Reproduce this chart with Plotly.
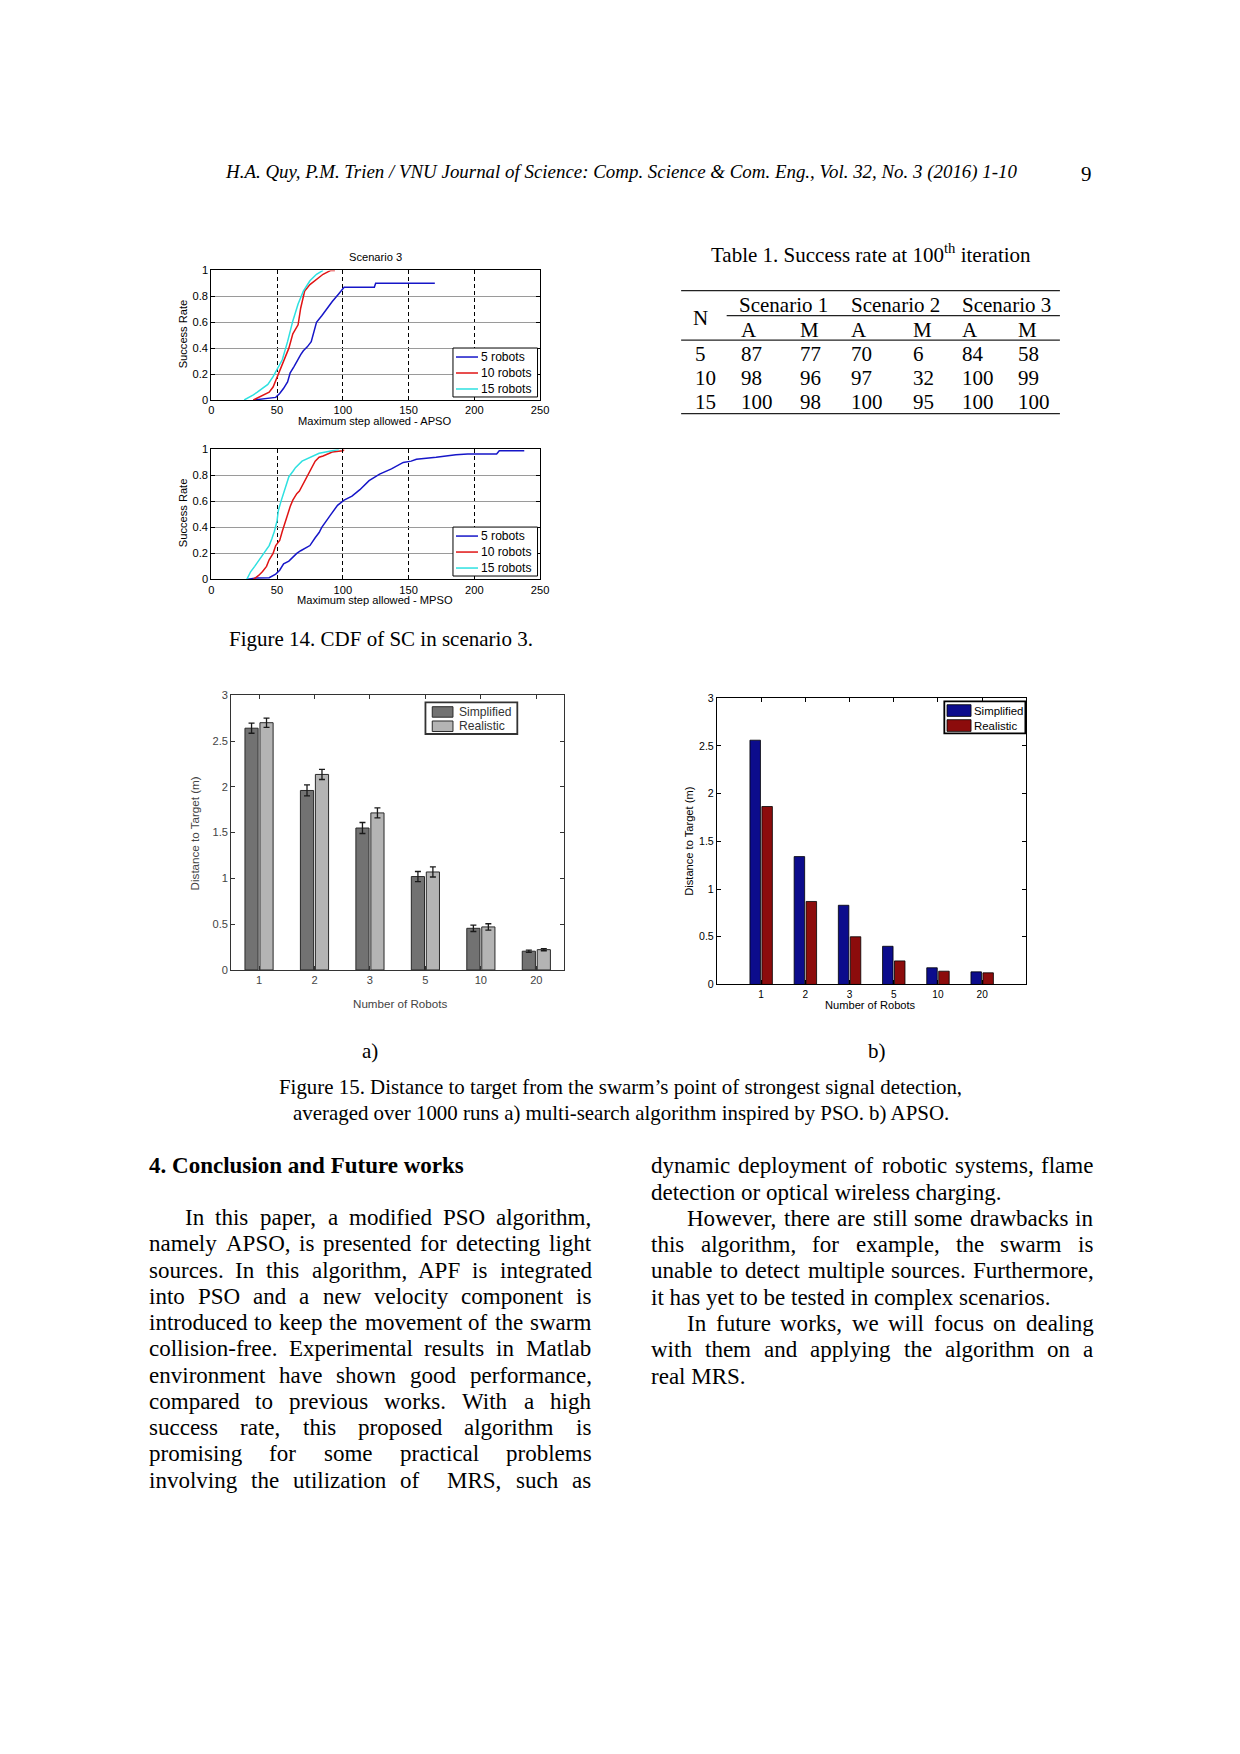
import plotly.graph_objects as go

W, H = 1240, 1754

# A small calibration maps them to figure pixels so the rendered page lines up.
SX, OX = 1.0105, -4.4
SY, OY = 1.006, -4.7
FS = SX


def px(x):
    return (SX * x + OX) / W


def py(y):
    return 1 - (SY * y + OY) / H


# ---------------- DATA ----------------
series_names = ["5 robots", "10 robots", "15 robots"]

# Figure 14 (top): APSO, CDF of success rate vs max step
apso_5_x = [32, 49, 52, 55, 58, 60, 63, 65, 68, 70, 73, 76, 78, 80, 84, 88, 92, 97, 101, 124, 125, 170]
apso_5_y = [0, 0.02, 0.05, 0.09, 0.14, 0.21, 0.26, 0.30, 0.35, 0.38, 0.41, 0.45, 0.53, 0.60, 0.65, 0.71,
            0.76, 0.82, 0.87, 0.87, 0.90, 0.90]
apso_10_x = [32, 36, 39, 44, 47, 49, 52, 55, 59, 62, 66, 68, 71, 75, 80, 85, 89, 91, 94]
apso_10_y = [0, 0.02, 0.03, 0.06, 0.10, 0.15, 0.21, 0.30, 0.40, 0.51, 0.58, 0.71, 0.84, 0.89, 0.93, 0.97,
             0.99, 1.0, 1.0]
apso_15_x = [25, 29, 32, 35, 38, 43, 47, 50, 54, 58, 62, 66, 70, 75, 80, 85]
apso_15_y = [0, 0.02, 0.04, 0.06, 0.08, 0.12, 0.18, 0.24, 0.31, 0.45, 0.61, 0.74, 0.84, 0.92, 0.97, 1.0]

# Figure 14 (bottom): MPSO
mpso_5_x = [28, 34, 44, 49, 52, 55, 59, 62, 65, 68, 72, 75, 79, 82, 84, 87, 91, 96, 101, 107, 113, 120,
            128, 137, 146, 152, 156, 171, 186, 195, 217, 219, 238]
mpso_5_y = [0, 0.01, 0.013, 0.04, 0.07, 0.12, 0.14, 0.17, 0.20, 0.22, 0.24, 0.26, 0.32, 0.36, 0.40, 0.44,
            0.50, 0.57, 0.61, 0.64, 0.69, 0.76, 0.81, 0.85, 0.90, 0.91, 0.925, 0.94, 0.96, 0.965, 0.965,
            0.99, 0.99]
mpso_10_x = [32, 36, 39, 42, 44, 47, 49, 52, 54, 56, 58, 60, 62, 65, 67, 71, 74, 77, 79, 82, 85, 92, 100, 101]
mpso_10_y = [0, 0.03, 0.06, 0.10, 0.15, 0.20, 0.26, 0.30, 0.37, 0.44, 0.49, 0.56, 0.61, 0.66, 0.68, 0.76,
             0.82, 0.87, 0.91, 0.94, 0.95, 0.98, 0.99, 1.0]
mpso_15_x = [27, 30, 33, 35, 38, 40, 44, 46, 48, 50, 51, 53, 55, 57, 59, 62, 64, 69, 73, 77, 82, 87, 92, 97]
mpso_15_y = [0, 0.06, 0.10, 0.13, 0.17, 0.21, 0.26, 0.31, 0.37, 0.45, 0.53, 0.60, 0.66, 0.73, 0.79, 0.83,
             0.86, 0.91, 0.93, 0.95, 0.97, 0.98, 0.99, 1.0]

step_ticks = [0, 50, 100, 150, 200, 250]
rate_ticks = [0, 0.2, 0.4, 0.6, 0.8, 1]

# Figure 15 a) and b)
bar_names = ["Simplified", "Realistic"]
robots = ["1", "2", "3", "5", "10", "20"]
a_simplified = [2.64, 1.96, 1.55, 1.02, 0.455, 0.205]
a_realistic = [2.70, 2.135, 1.715, 1.07, 0.47, 0.222]
a_simplified_err = [0.055, 0.06, 0.06, 0.055, 0.035, 0.012]
a_realistic_err = [0.05, 0.055, 0.055, 0.055, 0.035, 0.012]
b_simplified = [2.56, 1.34, 0.83, 0.40, 0.175, 0.132]
b_realistic = [1.865, 0.87, 0.50, 0.247, 0.139, 0.122]
dist_ticks = [0, 0.5, 1, 1.5, 2, 2.5, 3]

# Table 1
table_scenarios = ["Scenario 1", "Scenario 2", "Scenario 3"]
table_sub = ["A", "M", "A", "M", "A", "M"]
table_N = ["5", "10", "15"]
table_rows = [
    ["87", "77", "70", "6", "84", "58"],
    ["98", "96", "97", "32", "100", "99"],
    ["100", "98", "100", "95", "100", "100"],
]

header_text = ("H.A. Quy, P.M. Trien / VNU Journal of Science: Comp. Science &amp; Com. Eng., "
               "Vol. 32, No. 3 (2016) 1-10")
page_number = "9"
fig14_caption = "Figure 14. CDF of SC in scenario 3."
fig15_caption = ["Figure 15. Distance to target from the swarm\u2019s point of strongest signal detection,",
                 "averaged over 1000 runs a) multi-search algorithm inspired by PSO. b) APSO."]
table_title = "Table 1. Success rate at 100<sup>th</sup> iteration"
section_title = "4. Conclusion and Future works"

left_col = [
    ("In this paper, a modified PSO algorithm,", True, True),
    ("namely APSO, is presented for detecting light", False, True),
    ("sources. In this algorithm, APF is integrated", False, True),
    ("into PSO and a new velocity component is", False, True),
    ("introduced to keep the movement of the swarm", False, True),
    ("collision-free. Experimental results in Matlab", False, True),
    ("environment have shown good performance,", False, True),
    ("compared to previous works. With a high", False, True),
    ("success rate, this proposed algorithm is", False, True),
    ("promising for some practical problems", False, True),
    ("involving the utilization of  MRS, such as", False, True),
]
right_col = [
    ("dynamic deployment of robotic systems, flame", False, True),
    ("detection or optical wireless charging.", False, False),
    ("However, there are still some drawbacks in", True, True),
    ("this algorithm, for example, the swarm is", False, True),
    ("unable to detect multiple sources. Furthermore,", False, True),
    ("it has yet to be tested in complex scenarios.", False, False),
    ("In future works, we will focus on dealing", True, True),
    ("with them and applying the algorithm on a", False, True),
    ("real MRS.", False, False),
]

# ---------------- STYLE ----------------
SERIF = "Liberation Serif"
SANS = "Liberation Sans"
C_BLUE = "#1616c8"
C_RED = "#e01414"
C_CYAN = "#2ee0e0"
line_colors = [C_BLUE, C_RED, C_CYAN]
A_COLORS = ["#727272", "#b4b4b4"]
B_COLORS = ["#0c0c8c", "#8c0c0c"]

TW = {' ': 250, ',': 250, '.': 250, '-': 333, "'": 180, '\u2019': 333, '(': 333, ')': 333,
      ':': 278, ';': 278, '&': 778, '/': 278}
for d in "0123456789":
    TW[d] = 500
TW.update(dict(A=722, B=667, C=667, D=722, E=611, F=556, G=722, H=722, I=333, J=389, K=722, L=611,
               M=889, N=722, O=722, P=556, Q=722, R=667, S=556, T=611, U=722, V=722, W=944, X=722,
               Y=722, Z=611, a=444, b=500, c=444, d=500, e=444, f=333, g=500, h=500, i=278, j=278,
               k=500, l=278, m=778, n=500, o=500, p=500, q=500, r=333, s=389, t=278, u=500, v=500,
               w=722, x=500, y=500, z=444))


def tw(s):
    return sum(TW.get(ch, 500) for ch in s) / 1000.0


def F(size, family=SANS, color="black"):
    return dict(family=family, size=size * FS, color=color)


fig = go.Figure()

# CDF plots
cdf_sets = [
    ("x", "y", [(apso_5_x, apso_5_y), (apso_10_x, apso_10_y), (apso_15_x, apso_15_y)]),
    ("x2", "y2", [(mpso_5_x, mpso_5_y), (mpso_10_x, mpso_10_y), (mpso_15_x, mpso_15_y)]),
]
for xa, ya, sets in cdf_sets:
    for (xs, ys), name, col in zip(sets, series_names, line_colors):
        fig.add_trace(go.Scatter(x=xs, y=ys, mode="lines", name=name, showlegend=False,
                                 line=dict(color=col, width=1.5), xaxis=xa, yaxis=ya))

# Fig 15 a
for vals, errs, name, col in zip([a_simplified, a_realistic], [a_simplified_err, a_realistic_err],
                                 bar_names, A_COLORS):
    fig.add_trace(go.Bar(x=robots, y=vals, name=name, xaxis="x3", yaxis="y3", showlegend=False,
                         marker=dict(color=col, line=dict(color="#2a2a2a", width=1)),
                         error_y=dict(type="data", array=errs, color="#1a1a1a", thickness=1.3, width=3)))
# Fig 15 b
for vals, name, col in zip([b_simplified, b_realistic], bar_names, B_COLORS):
    fig.add_trace(go.Bar(x=robots, y=vals, name=name, xaxis="x4", yaxis="y4", showlegend=False,
                         marker=dict(color=col, line=dict(color="#000000", width=0.8))))

cdf_x = dict(range=[0, 250], tickvals=step_ticks, ticks="inside", ticklen=4, tickcolor="black",
             showline=True, linecolor="black", linewidth=1, mirror="ticks", showgrid=True,
             gridcolor="black", griddash="4px,3px", gridwidth=1, zeroline=False, tickfont=F(11))
cdf_y = dict(range=[0, 1], tickvals=rate_ticks, ticks="inside", ticklen=4, tickcolor="black",
             showline=True, linecolor="black", linewidth=1, mirror="ticks", showgrid=True,
             gridcolor="#9a9a9a", gridwidth=1, zeroline=False, tickfont=F(11))

bar_x_a = dict(type="category", range=[-0.5, 5.5], ticks="inside", ticklen=4, tickcolor="#333",
               showline=True, linecolor="#333", linewidth=1.2, mirror="ticks", showgrid=False,
               tickfont=F(11, color="#444"))
bar_y_a = dict(range=[0, 3], tickvals=dist_ticks, ticks="inside", ticklen=4, tickcolor="#333",
               showline=True, linecolor="#333", linewidth=1.2, mirror="ticks", showgrid=False, zeroline=False,
               tickfont=F(11, color="#444"))
bar_x_b = dict(type="category", range=[-1, 6], ticks="inside", ticklen=4, tickcolor="black",
               showline=True, linecolor="black", linewidth=1.2, mirror="ticks", showgrid=False,
               tickfont=F(10))
bar_y_b = dict(range=[0, 3], tickvals=dist_ticks, ticks="inside", ticklen=4, tickcolor="black",
               showline=True, linecolor="black", linewidth=1.2, mirror="ticks", showgrid=False, zeroline=False,
               tickfont=F(10.5))

fig.update_layout(
    width=W, height=H, margin=dict(l=0, r=0, t=0, b=0), paper_bgcolor="white", plot_bgcolor="white",
    barmode="group", bargap=0.46, bargroupgap=0.12, showlegend=False,
    xaxis=dict(cdf_x, domain=[px(212.5), px(541)], anchor="y"),
    yaxis=dict(cdf_y, domain=[py(399), py(269.3)], anchor="x"),
    xaxis2=dict(cdf_x, domain=[px(212.5), px(541)], anchor="y2"),
    yaxis2=dict(cdf_y, domain=[py(578.5), py(448.5)], anchor="x2"),
    xaxis3=dict(bar_x_a, domain=[px(232.5), px(565)], anchor="y3"),
    yaxis3=dict(bar_y_a, domain=[py(969.5), py(694.5)], anchor="x3"),
    xaxis4=dict(bar_x_b, domain=[px(717.8), px(1027)], anchor="y4"),
    yaxis4=dict(bar_y_b, domain=[py(984), py(697.5)], anchor="x4"),
)

anns = []
shapes = []


def txt(text, x, y, size, family=SERIF, xanchor="center", color="black", angle=0):
    anns.append(dict(text=text, x=px(x), y=py(y), xref="paper", yref="paper", xanchor=xanchor,
                     yanchor="middle", showarrow=False, textangle=angle, borderpad=0,
                     font=F(size, family, color)))


def rect(x0, y0, x1, y1, fill, line_color, line_width):
    shapes.append(dict(type="rect", xref="paper", yref="paper", x0=px(x0), x1=px(x1), y0=py(y0), y1=py(y1),
                       fillcolor=fill, line=dict(color=line_color, width=line_width), layer="above"))


def hline(x0, x1, y, color, width):
    shapes.append(dict(type="line", xref="paper", yref="paper", x0=px(x0), x1=px(x1), y0=py(y), y1=py(y),
                       line=dict(color=color, width=width), layer="above"))


# legends of Figure 14 (keys inside the plot areas)
for dy in (0, 179.2):
    rect(454, 347 + dy, 538.5, 396 + dy, "white", "black", 1)
    for k, (name, col) in enumerate(zip(series_names, line_colors)):
        yk = 356 + dy + k * 16
        hline(457, 479, yk, col, 1.5)
        txt(name, 481, yk, 12, SANS, xanchor="left")

# legends of Figure 15
rect(426.5, 701.7, 518.3, 733.3, "white", "#333", 1.8)
for k, (name, col) in enumerate(zip(bar_names, A_COLORS)):
    y0 = 706 + k * 14.3
    rect(433.3, y0, 454, y0 + 10.5, col, "#2a2a2a", 1)
    txt(name, 459.5, y0 + 5.2, 12, SANS, xanchor="left", color="#333")
rect(945, 700.7, 1026, 732.7, "white", "black", 1.8)
for k, (name, col) in enumerate(zip(bar_names, B_COLORS)):
    y0 = 704 + k * 15
    rect(947.7, y0, 971.7, y0 + 11.7, col, "black", 0.8)
    txt(name, 973.5, y0 + 6, 11.3, SANS, xanchor="left")

# page header
txt("<i>" + header_text + "</i>", 622, 171, 18.72)
txt(page_number, 1087, 173, 20.8)

# fig 14 texts
txt("Scenario 3", 376.8, 256, 11, SANS)
txt("Maximum step allowed - APSO", 375.6, 420.4, 11, SANS)
txt("Maximum step allowed - MPSO", 375.6, 599, 11, SANS)
txt("Success Rate", 184.5, 333, 11, SANS, angle=-90)
txt("Success Rate", 184.5, 512, 11, SANS, angle=-90)
txt(fig14_caption, 382.5, 638, 20.8)

# fig 15 texts
txt("Distance to Target (m)", 196, 833, 11.5, SANS, color="#444", angle=-90)
txt("Number of Robots", 401, 1003, 11.5, SANS, color="#444")
txt("Distance to Target (m)", 689, 841, 11, SANS, angle=-90)
txt("Number of Robots", 871, 1005, 11, SANS)
txt("a)", 371, 1051, 20.8)
txt("b)", 878, 1051, 20.8)
cap_size = 678 / tw(fig15_caption[0])
txt(fig15_caption[0], 621, 1086.7, cap_size)
txt(fig15_caption[1], 622, 1112.4, cap_size)

# table
txt(table_title, 872, 252.7, 20.8)
row_x = 695
col_x = [740.7, 800, 850.5, 912.5, 961.7, 1018]
scen_x = [739, 850.7, 961.7]
txt("N", 701, 317.3, 20.8)
for s, x in zip(table_scenarios, scen_x):
    txt(s, x, 304, 20.8, xanchor="left")
for s, x in zip(table_sub, col_x):
    txt(s, x, 329, 20.8, xanchor="left")
row_y = [353.3, 376.7, 400.7]
for n, row, y in zip(table_N, table_rows, row_y):
    txt(n, row_x, y, 20.8, xanchor="left")
    for v, x in zip(row, col_x):
        txt(v, x, y, 20.8, xanchor="left")
for (x0, x1, y) in [(682, 1060.5, 289.6), (727.5, 1060.5, 314.5), (682, 1060.5, 339), (682, 1060.5, 412.6)]:
    hline(x0, x1, y, "#222", 1.2)

# body text
BODY = 22.8
txt("<b>" + section_title + "</b>", 149, 1165, BODY, xanchor="left")


def place_col(lines, x0, x1, y0, dy, indent):
    for i, (text, ind, just) in enumerate(lines):
        y = y0 + i * dy
        left = x0 + (indent if ind else 0)
        if not just:
            txt(text, left, y, BODY, xanchor="left")
            continue
        words = text.split(" ")
        widths = [tw(w) * BODY for w in words]
        gap = (x1 - left - sum(widths)) / (len(words) - 1)
        x = left
        for w, wd in zip(words, widths):
            if w:
                txt(w, x, y, BODY, xanchor="left")
            x += wd + gap


place_col(left_col, 149.3, 590.7, 1216.7, 26.3, 35.7)
place_col(right_col, 651, 1092.7, 1165, 26.3, 35.7)

fig.update_layout(annotations=anns, shapes=shapes)
fig.write_html("out.html")
